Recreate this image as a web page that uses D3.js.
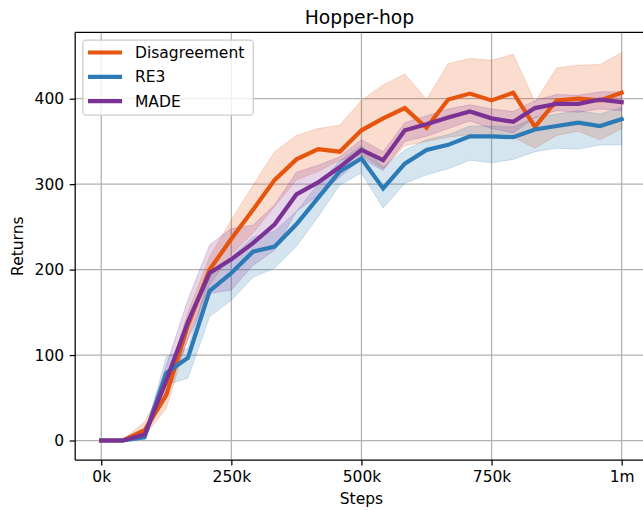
<!DOCTYPE html>
<html>
<head>
<meta charset="utf-8">
<script src="https://cdn.jsdelivr.net/npm/d3@7"></script>
<style>
  html, body { margin: 0; padding: 0; background: #fff; }
  svg { display: block; font-family: "DejaVu Sans", sans-serif; }
</style>
</head>
<body>
<svg id="chart" width="643" height="510"></svg>
<script>
// ---- data ----
const steps = [0, 41667, 83333, 125000, 166667, 208333, 250000, 291667, 333333, 375000,
  416667, 458333, 500000, 541667, 583333, 625000, 666667, 708333, 750000, 791667,
  833333, 875000, 916667, 958333, 1000000];

const seriesNames = ["Disagreement", "RE3", "MADE"];
const seriesColors = ["#e6550d", "#2c7bb6", "#7b3294"];

const disagreementMean = [0, 0, 12, 53, 135, 200, 236, 270, 305, 329, 341, 338, 363, 377, 389, 366, 399, 406, 398, 407, 367, 398, 400, 398, 407];
const disagreementLow  = [0, 0, 5, 38, 120, 182, 218, 243, 274, 305, 315, 328, 334, 318, 345, 350, 355, 358, 355, 355, 342, 357, 362, 352, 365];
const disagreementHigh = [0, 1, 22, 68, 150, 215, 258, 299, 338, 357, 365, 369, 398, 416, 429, 399, 441, 447, 445, 452, 396, 436, 439, 440, 454];

const re3Mean = [0, 0, 4, 79, 97, 175, 196, 221, 227, 253, 284, 315, 330, 295, 324, 340, 346, 356, 356, 355, 364, 368, 372, 368, 376];
const re3Low  = [0, 0, 1, 65, 73, 145, 164, 191, 202, 227, 262, 299, 313, 272, 301, 311, 318, 328, 325, 329, 338, 342, 341, 346, 346];
const re3High = [0, 0, 7, 98, 108, 195, 215, 238, 245, 268, 300, 327, 345, 320, 340, 352, 358, 368, 368, 367, 378, 382, 386, 382, 390];

const madeMean = [0, 0, 7, 70, 139, 196, 212, 231, 253, 288, 302, 320, 340, 328, 363, 370, 378, 385, 377, 373, 389, 394, 394, 399, 396];
const madeLow  = [0, 0, 3, 55, 118, 172, 176, 205, 223, 268, 287, 308, 330, 316, 350, 356, 365, 374, 365, 360, 378, 386, 384, 388, 386];
const madeHigh = [0, 0, 12, 88, 165, 229, 248, 252, 276, 314, 322, 332, 352, 338, 372, 380, 388, 393, 388, 385, 398, 405, 404, 408, 408];

const xTicks = [0, 250000, 500000, 750000, 1000000];
const xTickLabels = ["0k", "250k", "500k", "750k", "1m"];
const yTicks = [0, 100, 200, 300, 400];

const title = "Hopper-hop";
const xLabel = "Steps";
const yLabel = "Returns";

// ---- build ----
const series = [
  { name: seriesNames[0], color: seriesColors[0], mean: disagreementMean, low: disagreementLow, high: disagreementHigh },
  { name: seriesNames[1], color: seriesColors[1], mean: re3Mean, low: re3Low, high: re3High },
  { name: seriesNames[2], color: seriesColors[2], mean: madeMean, low: madeLow, high: madeHigh }
];

const svg = d3.select("#chart");
const L = 75.2, R = 647.7, T = 32.3, B = 460;
const x = d3.scaleLinear().domain([-50000, 1050000]).range([L, R]);
const y = d3.scaleLinear().domain([-22.8, 477.7]).range([B, T]);
const fs = 15.5;

// grid
const grid = svg.append("g");
xTicks.forEach(t => grid.append("line")
  .attr("x1", x(t)).attr("x2", x(t)).attr("y1", T).attr("y2", B)
  .attr("stroke", "#b0b0b0").attr("stroke-width", 1.25));
yTicks.forEach(t => grid.append("line")
  .attr("x1", L).attr("x2", R).attr("y1", y(t)).attr("y2", y(t))
  .attr("stroke", "#b0b0b0").attr("stroke-width", 1.25));

svg.append("clipPath").attr("id", "clip").append("rect")
  .attr("x", L).attr("y", T).attr("width", R - L).attr("height", B - T);
const plot = svg.append("g").attr("clip-path", "url(#clip)");

const area = d3.area().x((d, i) => x(steps[i])).y0(d => y(d[0])).y1(d => y(d[1]));
const line = d3.line().x((d, i) => x(steps[i])).y(d => y(d));

series.forEach(s => {
  const band = s.low.map((v, i) => [v, s.high[i]]);
  plot.append("path").datum(band).attr("d", area)
    .attr("fill", s.color).attr("fill-opacity", 0.2)
    .attr("stroke", s.color).attr("stroke-opacity", 0.2).attr("stroke-width", 1);
});
series.forEach(s => {
  plot.append("path").datum(s.mean).attr("d", line)
    .attr("fill", "none").attr("stroke", s.color).attr("stroke-width", 4.2)
    .attr("stroke-linejoin", "miter").attr("stroke-linecap", "square");
});

// spines
svg.append("line").attr("x1", L).attr("x2", L).attr("y1", T).attr("y2", B).attr("stroke", "#000").attr("stroke-width", 1.25);
svg.append("line").attr("x1", L).attr("x2", R).attr("y1", B).attr("y2", B).attr("stroke", "#000").attr("stroke-width", 1.25);
svg.append("line").attr("x1", L).attr("x2", R).attr("y1", T).attr("y2", T).attr("stroke", "#000").attr("stroke-width", 1.25);
svg.append("line").attr("x1", R).attr("x2", R).attr("y1", T).attr("y2", B).attr("stroke", "#000").attr("stroke-width", 1.25);

// axes
const xAxis = d3.axisBottom(x).tickValues(xTicks).tickFormat((d, i) => xTickLabels[i]).tickSize(5.5).tickPadding(5.5);
const yAxis = d3.axisLeft(y).tickValues(yTicks).tickSize(5.5).tickPadding(5.5);
const gx = svg.append("g").attr("transform", `translate(0,${B})`).call(xAxis);
const gy = svg.append("g").attr("transform", `translate(${L},0)`).call(yAxis);
[gx, gy].forEach(g => {
  g.select(".domain").remove();
  g.selectAll(".tick line").attr("stroke", "#000").attr("stroke-width", 1.25);
  g.selectAll(".tick text").attr("fill", "#000").style("font-size", fs + "px").style("font-family", "DejaVu Sans");
});

// labels
svg.append("text").attr("x", (L + R) / 2 - 2).attr("y", 24).attr("text-anchor", "middle")
  .style("font-size", "18.8px").attr("fill", "#000").text(title);
svg.append("text").attr("x", x(500000)).attr("y", 504).attr("text-anchor", "middle")
  .style("font-size", fs + "px").attr("fill", "#000").text(xLabel);
svg.append("text").attr("transform", `translate(23,${(T + B) / 2}) rotate(-90)`).attr("text-anchor", "middle")
  .style("font-size", fs + "px").attr("fill", "#000").text(yLabel);

// legend
const lg = svg.append("g");
lg.append("rect").attr("x", 82.8).attr("y", 40.1).attr("width", 170.5).attr("height", 75)
  .attr("rx", 3.5).attr("fill", "#fff").attr("fill-opacity", 0.8)
  .attr("stroke", "#cccccc").attr("stroke-width", 1.25);
series.forEach((s, i) => {
  const ly = 52.5 + i * 24.3;
  lg.append("line").attr("x1", 88).attr("x2", 122).attr("y1", ly).attr("y2", ly)
    .attr("stroke", s.color).attr("stroke-width", 4.2);
  lg.append("text").attr("x", 135).attr("y", ly).attr("dy", "0.36em")
    .style("font-size", fs + "px").attr("fill", "#000").text(s.name);
});
</script>
</body>
</html>
